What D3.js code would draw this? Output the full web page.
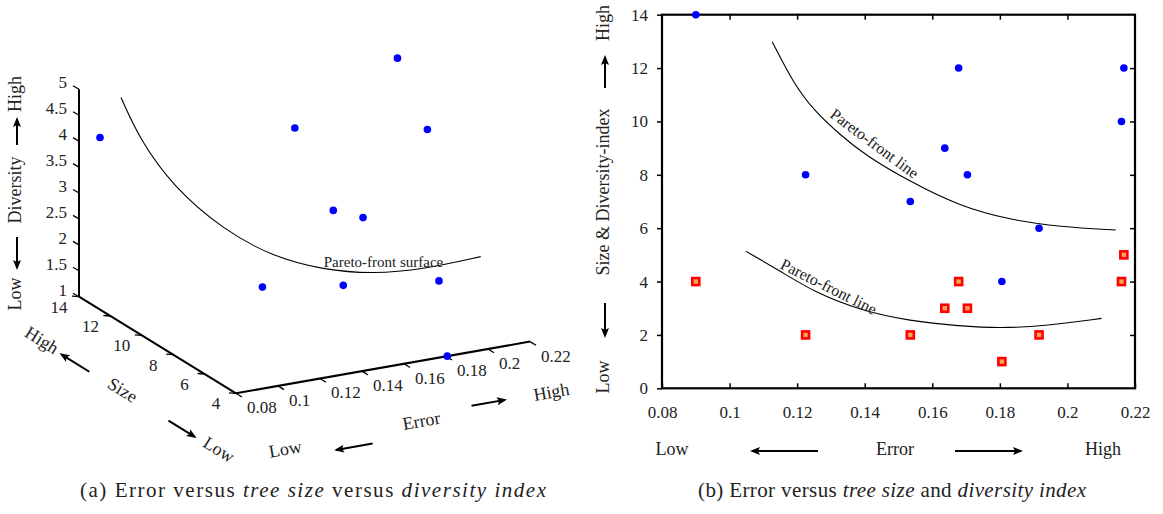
<!DOCTYPE html>
<html>
<head>
<meta charset="utf-8">
<script src="https://cdn.jsdelivr.net/npm/d3@7"></script>
<style>
  body { margin: 0; background: #fff; }
  svg text { font-family: "Liberation Serif", serif; fill: #222; }
</style>
</head>
<body>
<svg id="chart" width="1163" height="514"></svg>
<script>
// one entry per tree, same order in both panels
var errorVals     = [0.090, 0.1225, 0.1535, 0.1637, 0.1678, 0.1704, 0.1806, 0.1916, 0.216, 0.2167];
var sizeVals      = [14, 8, 7, 9, 12, 8, 4, 6, 10, 12];
var diversityVals = [4, 2, 2, 3, 4, 3, 1, 2, 4, 5];

var errTicks  = [0.08, 0.1, 0.12, 0.14, 0.16, 0.18, 0.2, 0.22];
var sizeTicks = [4, 6, 8, 10, 12, 14];
var divTicks  = [1, 1.5, 2, 2.5, 3, 3.5, 4, 4.5, 5];
var valTicks  = [0, 2, 4, 6, 8, 10, 12, 14];

// pareto-front surface in (a), traced on the back wall (size = 14)
var surfErr = [0.1000, 0.1090, 0.1249, 0.1487, 0.1725, 0.1963, 0.2201, 0.2440, 0.2713];
var surfDiv = [4.70, 3.82, 2.80, 1.80, 1.11, 0.69, 0.44, 0.36, 0.41];

// pareto-front lines in (b)
var upperErr = [0.1126, 0.1189, 0.1248, 0.1327, 0.1400, 0.1534, 0.1682, 0.1830, 0.1978, 0.2143];
var upperVal = [12.99, 11.43, 10.43, 9.50, 8.75, 7.74, 6.82, 6.31, 6.05, 5.93];
var lowerErr = [0.1048, 0.1149, 0.1248, 0.1386, 0.1534, 0.1682, 0.1800, 0.1928, 0.2101];
var lowerVal = [5.14, 4.40, 3.62, 2.92, 2.52, 2.33, 2.25, 2.33, 2.62];

var svg = d3.select("#chart").style("font-family", "'Liberation Serif', serif");
svg.append("rect").attr("width", 1163).attr("height", 514).attr("fill", "#fff");

var defs = svg.append("defs");
defs.append("marker")
    .attr("id", "head")
    .attr("viewBox", "0 0 10 10")
    .attr("refX", 8).attr("refY", 5)
    .attr("markerWidth", 5).attr("markerHeight", 5)
    .attr("orient", "auto")
  .append("path")
    .attr("d", "M0,1 L10,5 L0,9 L2,5 Z")
    .attr("fill", "#000");

function arrow(g, x1, y1, x2, y2) {
  g.append("line")
    .attr("x1", x1).attr("y1", y1).attr("x2", x2).attr("y2", y2)
    .attr("stroke", "#000").attr("stroke-width", 2)
    .attr("marker-end", "url(#head)");
}

function label(g, tx, ty, txt, size) {
  return g.append("text").attr("x", tx).attr("y", ty)
    .attr("text-anchor", "middle").attr("dominant-baseline", "middle")
    .attr("font-size", size || 18).text(txt);
}

// ---------- panel (a): 3d view ----------
var ga = svg.append("g");

var eS = d3.scaleLinear().domain([0.08, 0.22]).range([0, 1]);
var sS = d3.scaleLinear().domain([4, 14]).range([0, 1]);
var dS = d3.scaleLinear().domain([1, 5]).range([0, 1]);
var origin = [236, 393.3],
    eVec = [294, -51.7],
    sVec = [-157, -96.6],
    dVec = [0, -207.4];

function proj(e, s, d) {
  var a = eS(e), b = sS(s), c = dS(d);
  return [origin[0] + a * eVec[0] + b * sVec[0] + c * dVec[0],
          origin[1] + a * eVec[1] + b * sVec[1] + c * dVec[1]];
}

function seg(g, p, q, w) {
  g.append("line")
    .attr("x1", p[0]).attr("y1", p[1]).attr("x2", q[0]).attr("y2", q[1])
    .attr("stroke", "#000").attr("stroke-width", w);
}

// axes
seg(ga, proj(0.08, 14, 1), proj(0.08, 14, 5), 2);
seg(ga, proj(0.08, 4, 1), proj(0.08, 14, 1), 2);
seg(ga, proj(0.08, 4, 1), proj(0.22, 4, 1), 2);

divTicks.forEach(function(v) {
  var p = proj(0.08, 14, v);
  seg(ga, p, [p[0] - 6, p[1] - 3.5], 1.3);
  ga.append("text").attr("x", p[0] - 12).attr("y", p[1] - 5)
    .attr("text-anchor", "end").attr("dominant-baseline", "middle")
    .attr("font-size", 17).text(v);
});
sizeTicks.forEach(function(v) {
  var p = proj(0.08, v, 1);
  seg(ga, p, [p[0] - 7, p[1] - 0.5], 1.3);
  label(ga, p[0] - 20, p[1] + 12, v, 17);
});
errTicks.forEach(function(v) {
  var p = proj(v, 4, 1);
  seg(ga, p, [p[0] + 6, p[1] + 3.7], 1.3);
  ga.append("text").attr("x", p[0] + 11).attr("y", p[1] + 16)
    .attr("text-anchor", "start").attr("dominant-baseline", "middle")
    .attr("font-size", 17).text(+v.toFixed(2));
});

// axis titles with arrows
var divLab = ga.append("g").attr("transform", "translate(17,0) rotate(-90)");
label(divLab, -94, 0, "High");
label(divLab, -190, 0, "Diversity");
label(divLab, -294, 0, "Low");
arrow(divLab, -145, 0, -119, 0);
arrow(divLab, -237, 0, -268, 0);

var sizeLab = ga.append("g").attr("transform", "translate(121.7,391.7) rotate(31.7)");
label(sizeLab, -95, 0, "High");
label(sizeLab, 0, 0, "Size");
label(sizeLab, 113, 0, "Low");
arrow(sizeLab, -38, 0, -71, 0);
arrow(sizeLab, 55, 0, 86, 0);

var errLab = ga.append("g").attr("transform", "translate(421.7,422.7) rotate(-10)");
label(errLab, -139, 4, "Low");
label(errLab, 0, 0, "Error");
label(errLab, 133, -6, "High");
arrow(errLab, -52, 12, -89, 12);
arrow(errLab, 52, -8, 86, -8);

// pareto-front surface
var surf = surfErr.map(function(e, i) { return proj(e, 14, surfDiv[i]); });
ga.append("path")
  .attr("d", d3.line().curve(d3.curveBasis)(surf))
  .attr("fill", "none").attr("stroke", "#000").attr("stroke-width", 1.1);
var sl = proj(0.225, 14, 0.61);
label(ga, sl[0], sl[1], "Pareto-front surface", 15);

ga.selectAll("circle.pt")
  .data(errorVals.map(function(e, i) { return proj(e, sizeVals[i], diversityVals[i]); }))
  .enter().append("circle")
  .attr("class", "pt")
  .attr("cx", function(d) { return d[0]; })
  .attr("cy", function(d) { return d[1]; })
  .attr("r", 3.8).attr("fill", "#0000ff");

// ---------- panel (b): 2d view ----------
var gb = svg.append("g");
var x = d3.scaleLinear().domain([0.08, 0.22]).range([662, 1135]);
var y = d3.scaleLinear().domain([0, 14]).range([388.3, 14.7]);

var fmt = function(d) { return +d.toFixed(2); };
var inner = errTicks.slice(1, -1), innerY = valTicks.slice(1, -1);

gb.append("g").attr("transform", "translate(0,388.3)")
  .call(d3.axisBottom(x).tickValues(errTicks).tickFormat(fmt).tickSizeInner(-5).tickSizeOuter(0).tickPadding(18));
gb.append("g").attr("transform", "translate(0,14.7)")
  .call(d3.axisTop(x).tickValues(inner).tickFormat("").tickSizeInner(-5).tickSizeOuter(0));
gb.append("g").attr("transform", "translate(662,0)")
  .call(d3.axisLeft(y).tickValues(valTicks).tickSizeInner(5).tickSizeOuter(0).tickPadding(9));
gb.append("g").attr("transform", "translate(1135,0)")
  .call(d3.axisRight(y).tickValues(innerY).tickFormat("").tickSizeInner(-5).tickSizeOuter(0));

gb.selectAll(".domain").remove();
gb.selectAll("g").attr("font-family", null);
gb.selectAll(".tick line").attr("stroke", "#000").attr("stroke-width", 1.5);
gb.selectAll(".tick text").attr("font-size", 17).attr("fill", "#222");

gb.append("rect")
  .attr("x", x(0.08)).attr("y", y(14))
  .attr("width", x(0.22) - x(0.08)).attr("height", y(0) - y(14))
  .attr("fill", "none").attr("stroke", "#000").attr("stroke-width", 2.2);

// x title row
label(gb, 672, 451, "Low");
label(gb, 895, 451, "Error");
label(gb, 1103, 451, "High");
arrow(gb, 818, 451, 752, 451);
arrow(gb, 955, 451, 1021, 451);

// y title
var yl = gb.append("g").attr("transform", "translate(605,0) rotate(-90)");
label(yl, -23, 0, "High");
label(yl, -192, 0, "Size & Diversity-index");
label(yl, -377, 0, "Low");
arrow(yl, -88, 0, -57, 0);
arrow(yl, -303, 0, -336, 0);

// pareto-front lines
var line = d3.line().curve(d3.curveBasis)
  .x(function(d) { return x(d[0]); })
  .y(function(d) { return y(d[1]); });
gb.append("path").attr("d", line(d3.zip(upperErr, upperVal)))
  .attr("fill", "none").attr("stroke", "#000").attr("stroke-width", 1.1);
gb.append("path").attr("d", line(d3.zip(lowerErr, lowerVal)))
  .attr("fill", "none").attr("stroke", "#000").attr("stroke-width", 1.1);

gb.append("text")
  .attr("transform", "translate(" + x(0.1426) + "," + y(9.12) + ") rotate(36.5)")
  .attr("text-anchor", "middle").attr("dominant-baseline", "middle")
  .attr("font-size", 16).text("Pareto-front line");
gb.append("text")
  .attr("transform", "translate(" + x(0.1291) + "," + y(3.75) + ") rotate(26.6)")
  .attr("text-anchor", "middle").attr("dominant-baseline", "middle")
  .attr("font-size", 16).text("Pareto-front line");

// diversity as squares, size as dots
gb.selectAll("rect.div")
  .data(d3.zip(errorVals, diversityVals))
  .enter().append("rect")
  .attr("class", "div")
  .attr("x", function(d) { return x(d[0]) - 3.5; })
  .attr("y", function(d) { return y(d[1]) - 3.5; })
  .attr("width", 7).attr("height", 7)
  .attr("fill", "#f5a55a").attr("stroke", "#ff0000").attr("stroke-width", 2.6);

gb.selectAll("circle.size")
  .data(d3.zip(errorVals, sizeVals))
  .enter().append("circle")
  .attr("class", "size")
  .attr("cx", function(d) { return x(d[0]); })
  .attr("cy", function(d) { return y(d[1]); })
  .attr("r", 3.8).attr("fill", "#0000ff");

// captions
var cap = svg.append("g").attr("font-size", 21);
var ca = cap.append("text").attr("x", 80).attr("y", 497)
  .attr("textLength", 466).attr("lengthAdjust", "spacing");
ca.append("tspan").text("(a) Error versus ");
ca.append("tspan").attr("font-style", "italic").text("tree size");
ca.append("tspan").text(" versus ");
ca.append("tspan").attr("font-style", "italic").text("diversity index");

var cb = cap.append("text").attr("x", 698).attr("y", 497)
  .attr("textLength", 388).attr("lengthAdjust", "spacing");
cb.append("tspan").text("(b) Error versus ");
cb.append("tspan").attr("font-style", "italic").text("tree size");
cb.append("tspan").text(" and ");
cb.append("tspan").attr("font-style", "italic").text("diversity index");
</script>
</body>
</html>
